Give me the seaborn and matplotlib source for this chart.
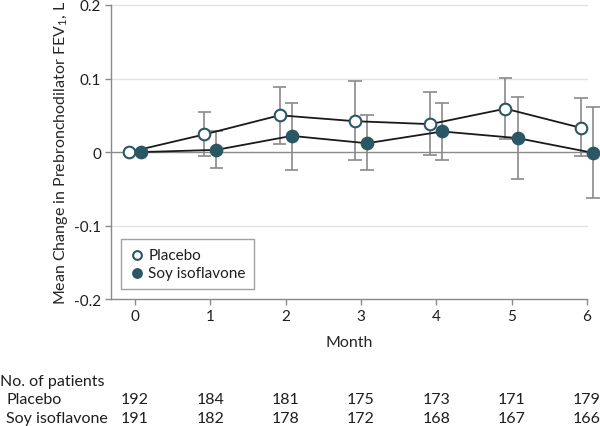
import matplotlib
matplotlib.use("Agg")
import matplotlib.pyplot as plt
import matplotlib.transforms as mtransforms
import seaborn as sns
import pandas as pd

months = [0, 1, 2, 3, 4, 5, 6]
placebo_mean = [0.0, 0.024, 0.050, 0.042, 0.038, 0.059, 0.033]
placebo_upper = [0.0, 0.054, 0.089, 0.097, 0.082, 0.101, 0.073]
placebo_lower = [0.0, -0.005, 0.011, -0.011, -0.004, 0.018, -0.006]
soy_mean = [0.0, 0.003, 0.022, 0.012, 0.028, 0.019, -0.001]
soy_upper = [0.0, 0.028, 0.067, 0.051, 0.067, 0.075, 0.061]
soy_lower = [0.0, -0.022, -0.024, -0.025, -0.011, -0.036, -0.062]
n_placebo = [192, 184, 181, 175, 173, 171, 179]
n_soy = [191, 182, 178, 172, 168, 167, 166]

teal = "#2b5664"
grey = "#8a8a8a"

sns.set_style("white")
plt.rcParams["font.family"] = ["Lato", "DejaVu Sans"]
plt.rcParams["mathtext.fontset"] = "custom"
plt.rcParams["mathtext.rm"] = "Lato"
plt.rcParams["text.color"] = "#1e1e1e"
plt.rcParams["xtick.labelcolor"] = "#1e1e1e"
plt.rcParams["ytick.labelcolor"] = "#1e1e1e"

fig = plt.figure(figsize=(6, 4.27), dpi=100)
ax = fig.add_axes([0.185, 0.297, 0.793, 0.689])

df = pd.DataFrame({
    "month": months * 2,
    "mean": placebo_mean + soy_mean,
    "group": ["Placebo"] * 7 + ["Soy isoflavone"] * 7,
})
df["x"] = df["month"] + df["group"].map({"Placebo": -0.08, "Soy isoflavone": 0.08})

for y in [-0.1, 0.1, 0.2]:
    ax.axhline(y, color="#e3e3e3", lw=1, zorder=0)
ax.axhline(0, color=grey, lw=1, zorder=0)

# error bars
for grp, up, lo in [("Placebo", placebo_upper, placebo_lower),
                    ("Soy isoflavone", soy_upper, soy_lower)]:
    sub = df[df["group"] == grp]
    for xv, u, l in zip(sub["x"], up, lo):
        if u == l:
            continue
        ax.vlines(xv, l, u, color=grey, lw=1.2, zorder=2, clip_on=False)
        ax.hlines([l, u], xv - 0.09, xv + 0.09, color=grey, lw=1.2, zorder=2, clip_on=False)

sns.lineplot(data=df, x="x", y="mean", hue="group", palette=["#1a1a1a", "#1a1a1a"],
             lw=1.3, legend=False, ax=ax, zorder=3)
for line in ax.lines:
    line.set_clip_on(False)

sub = df[df["group"] == "Placebo"]
ax.scatter(sub["x"], sub["mean"], s=70, facecolor="white", edgecolor=teal, lw=1.5,
           zorder=4, clip_on=False, label="Placebo")
sub = df[df["group"] == "Soy isoflavone"]
ax.scatter(sub["x"], sub["mean"], s=70, facecolor=teal, edgecolor=teal, lw=1.5,
           zorder=4, clip_on=False, label="Soy isoflavone")

ax.set_xlim(-0.32, 6)
ax.set_ylim(-0.2, 0.2)
ax.set_xticks(months)
ax.set_yticks([-0.2, -0.1, 0, 0.1, 0.2])
ax.set_yticklabels(["-0.2", "-0.1", "0", "0.1", "0.2"])
ax.tick_params(axis="both", length=4, width=1, color=grey, labelsize=11, pad=3)
ax.tick_params(axis="both", direction="out", bottom=True, left=True)
for side in ["top", "right"]:
    ax.spines[side].set_visible(False)
for side in ["left", "bottom"]:
    ax.spines[side].set_color(grey)
    ax.spines[side].set_linewidth(1)

ax.set_xlabel("Month", fontsize=11.5, labelpad=9)
ax.set_ylabel("Mean Change in Prebronchodilator FEV$_1$, L", fontsize=11.5, labelpad=3)

leg = ax.legend(loc="lower left", bbox_to_anchor=(0.022, 0.035), fontsize=11, frameon=True,
                fancybox=False, edgecolor=grey, handletextpad=0.3, handlelength=0.9,
                borderpad=0.55, labelspacing=0.3, markerscale=0.75, borderaxespad=0)
leg.get_frame().set_linewidth(1)

# number of patients table, columns under the month ticks
trans = mtransforms.blended_transform_factory(ax.transData, fig.transFigure)
fig.text(0.0, 1 - 382 / 427, "No. of patients", fontsize=11.5, va="center", ha="left")
fig.text(0.01, 1 - 400 / 427, "Placebo", fontsize=11.5, va="center", ha="left")
fig.text(0.01, 1 - 419 / 427, "Soy isoflavone", fontsize=11.5, va="center", ha="left")
for m, a, b in zip(months, n_placebo, n_soy):
    ax.text(m, 1 - 400 / 427, str(a), fontsize=11.5, va="center", ha="center", transform=trans)
    ax.text(m, 1 - 419 / 427, str(b), fontsize=11.5, va="center", ha="center", transform=trans)

fig.savefig("out.png", dpi=100)
